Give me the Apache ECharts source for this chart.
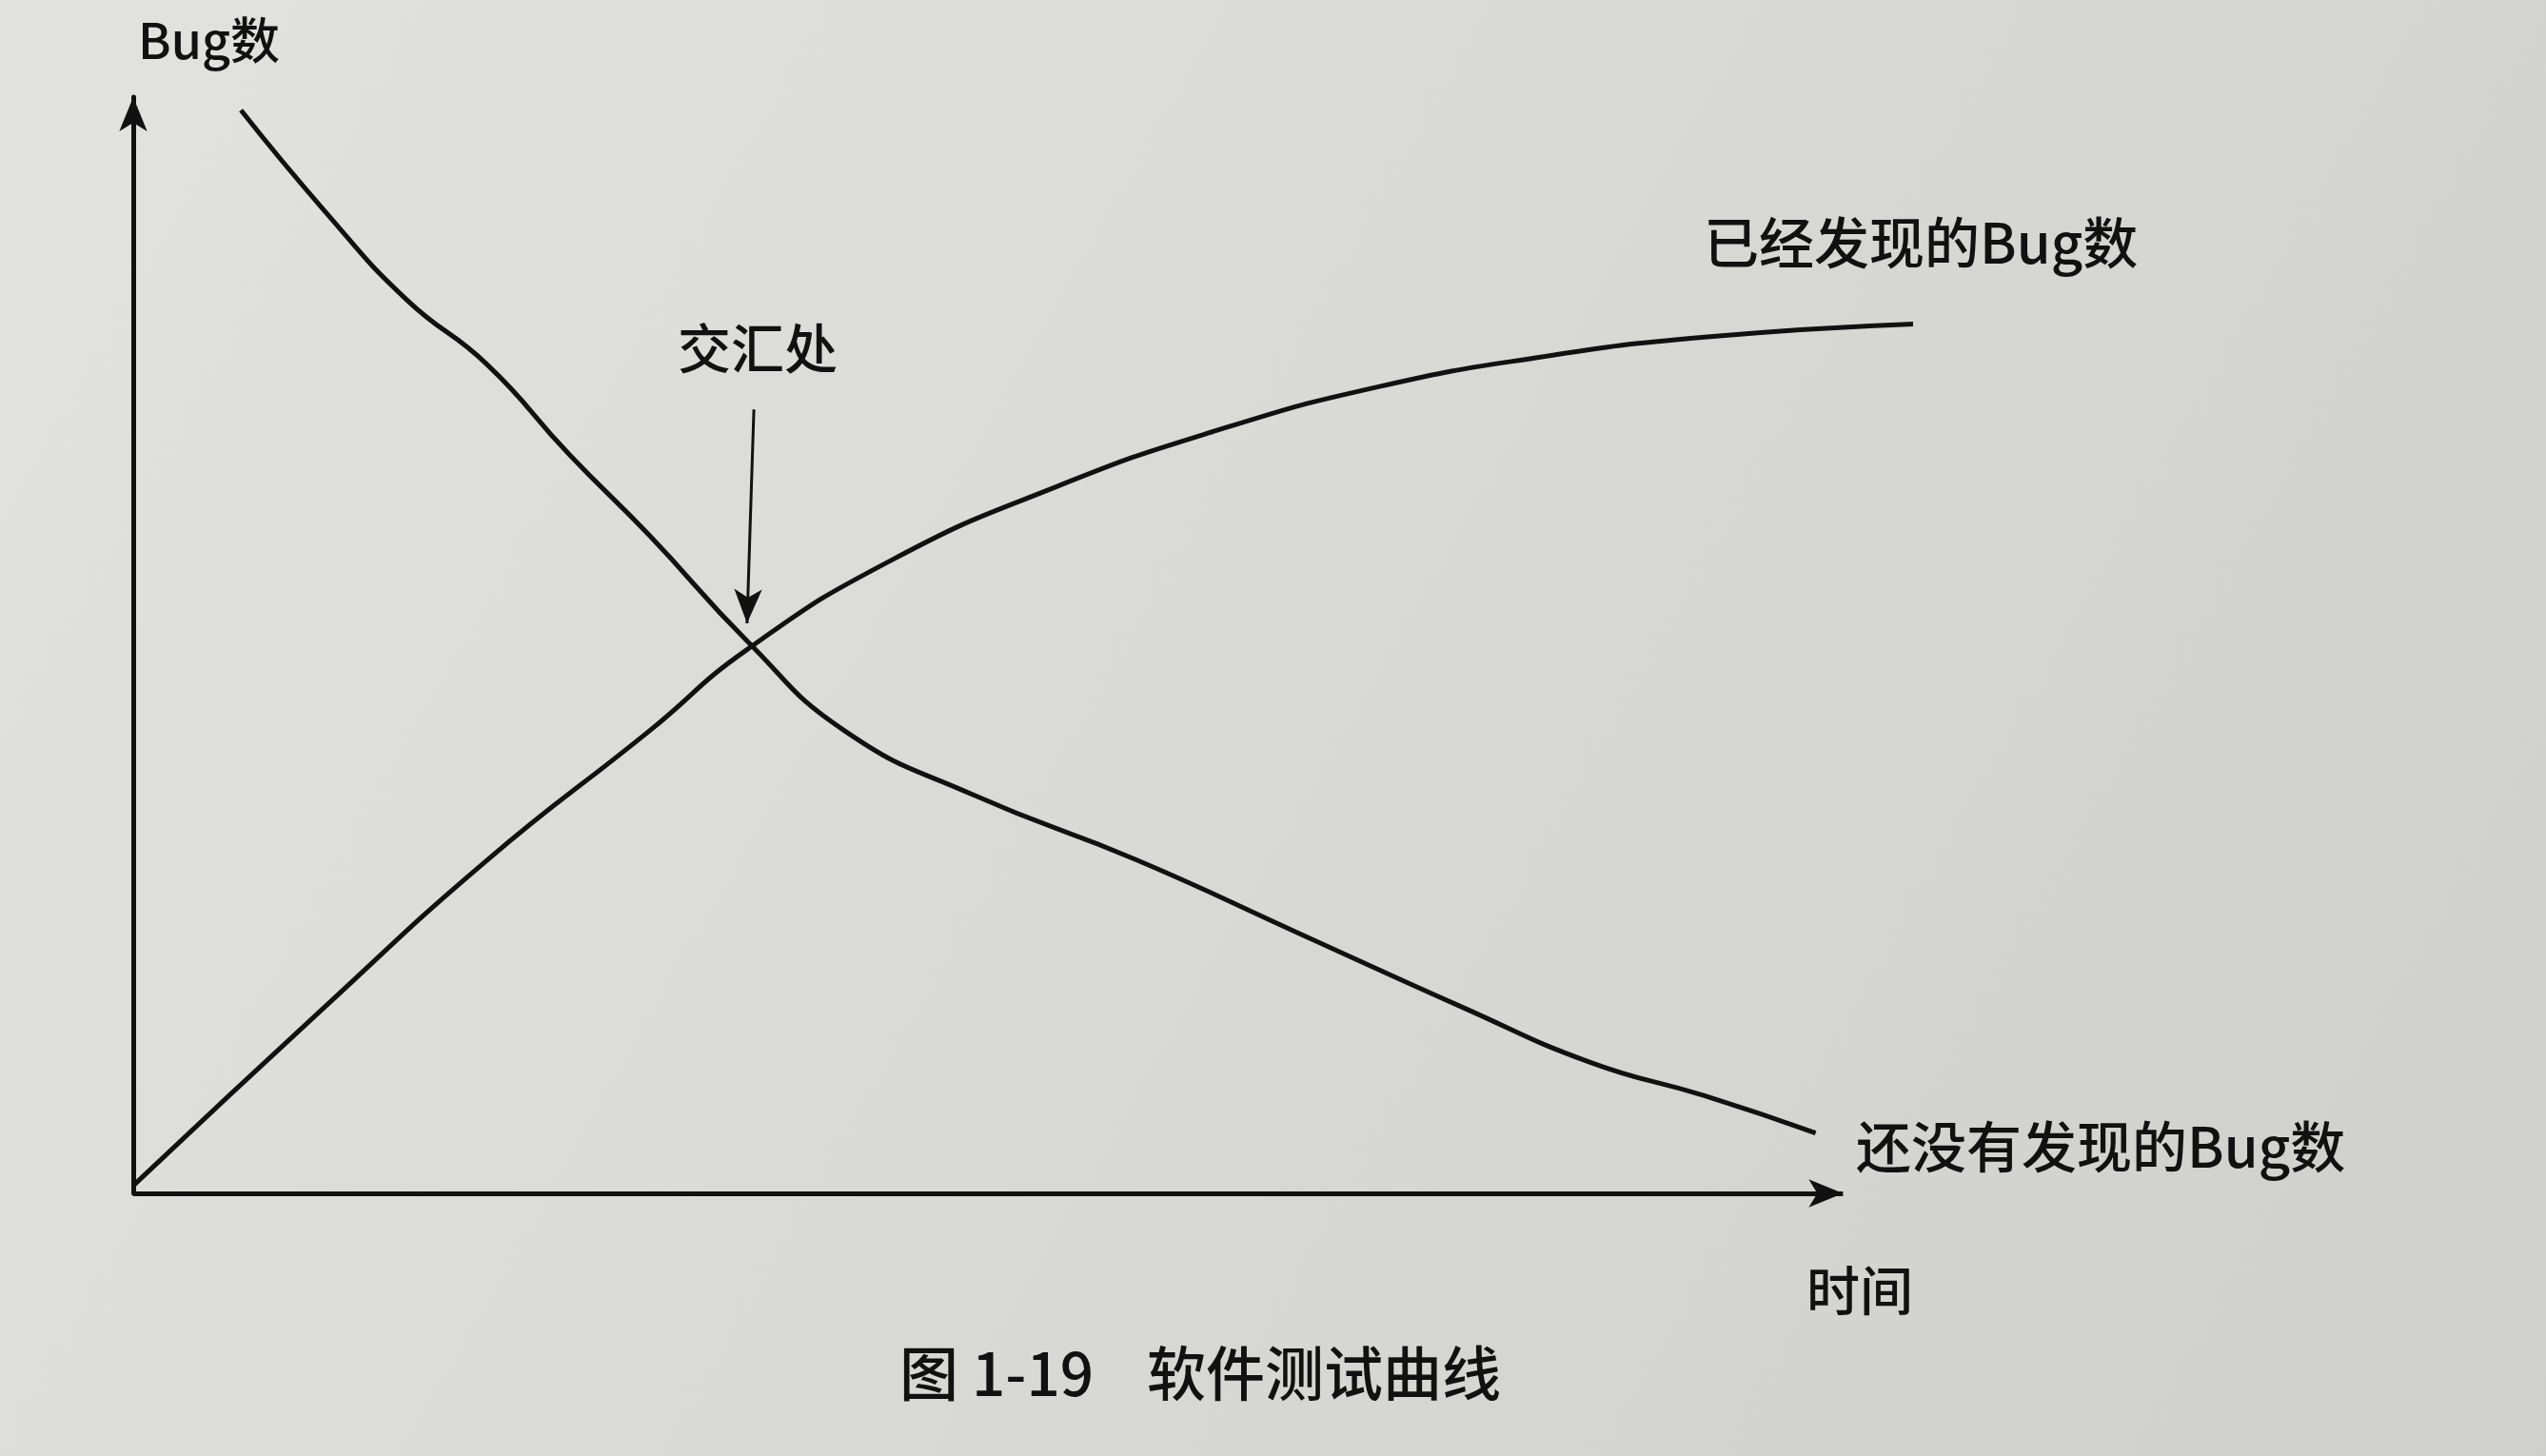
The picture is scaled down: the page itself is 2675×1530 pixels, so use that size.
<!DOCTYPE html>
<html><head><meta charset="utf-8">
<script src="https://cdn.jsdelivr.net/npm/echarts@6/dist/echarts.min.js"></script>
<style>html,body{margin:0;padding:0;background:#d8d8d5}#c{width:2675px;height:1530px}</style>
</head><body><div id="c"></div>
<script>
const discoveredX=[0,11.2,20.7,30.2,35.9,44.4,53.9,63.4,72.9,82.4,91.9,104.1];
const discoveredY=[0.7,17,30.4,42.2,49.6,57.8,64.4,69.6,73.6,76.3,78.1,79.3];
const remainingX=[6.3,11.2,16.0,20.7,25.5,30.2,35.9,41.6,49.2,58.7,68.2,77.7,85.3,91.9,98.4];
const remainingY=[98.8,89.6,81.5,75.6,67.4,60.0,50.4,42.2,36.3,30.4,23.7,17.0,11.9,8.9,5.5];
const zip=(a,b)=>a.map((v,i)=>[v,b[i]]);
const font='"Noto Sans CJK SC", sans-serif';
const chart=echarts.init(document.getElementById('c'));
chart.setOption({
  backgroundColor:{type:'linear',x:0,y:0,x2:1,y2:1,colorStops:[{offset:0,color:'#e2e2df'},{offset:1,color:'#cfcfcb'}]},
  grid:{left:140,right:665,top:102,bottom:276},
  xAxis:{type:'value',min:0,max:104.1,axisLine:{show:false},axisTick:{show:false},axisLabel:{show:false},splitLine:{show:false}},
  yAxis:{type:'value',min:0,max:100,axisLine:{show:true,symbol:['none','arrow'],symbolSize:[22,36],lineStyle:{color:'#111',width:5}},axisTick:{show:false},axisLabel:{show:false},splitLine:{show:false}},
  series:[
    {type:'line',data:zip(discoveredX,discoveredY),smooth:true,showSymbol:false,clip:false,lineStyle:{color:'#111',width:5},
     markLine:{silent:true,symbol:['none','arrow'],symbolSize:[22,36],label:{show:false},
       data:[
         [{coord:[36.3,71.5],lineStyle:{color:'#111',width:3,type:'solid'}},{coord:[35.9,52]}],
         [{coord:[0,0],lineStyle:{color:'#111',width:5,type:'solid'}},{coord:[100,0]}]
       ]}},
    {type:'line',data:zip(remainingX,remainingY),smooth:true,showSymbol:false,clip:false,lineStyle:{color:'#111',width:5}}
  ],
  graphic:[
    {type:'text',left:145,top:16,style:{text:'Bug数',font:'500 52px '+font,fill:'#111'}},
    {type:'text',left:1790,top:226,style:{text:'已经发现的Bug数',font:'500 58px '+font,fill:'#111'}},
    {type:'text',left:712,top:338,style:{text:'交汇处',font:'500 56px '+font,fill:'#111'}},
    {type:'text',left:1950,top:1176,style:{text:'还没有发现的Bug数',font:'500 58px '+font,fill:'#111'}},
    {type:'text',left:1898,top:1328,style:{text:'时间',font:'500 56px '+font,fill:'#111'}},
    {type:'text',left:945,top:1412,style:{text:'图 1-19    软件测试曲线',font:'500 62px '+font,fill:'#111'}}
  ]
});
</script></body></html>
